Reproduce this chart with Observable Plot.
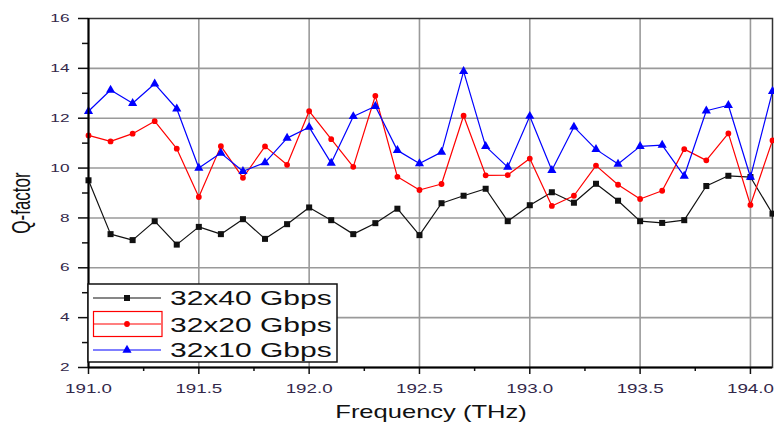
<!DOCTYPE html>
<html>
<head>
<meta charset="utf-8">
<script src="https://cdn.jsdelivr.net/npm/d3@7"></script>
<script src="https://cdn.jsdelivr.net/npm/@observablehq/plot@0.6"></script>
<style>
  html, body { margin: 0; padding: 0; background: #fff; }
</style>
</head>
<body>
<div id="chart"></div>
<script>
// Frequencies (THz), one per channel
const freq = [191.0, 191.1, 191.2, 191.3, 191.4, 191.5, 191.6, 191.7, 191.8, 191.9,
              192.0, 192.1, 192.2, 192.3, 192.4, 192.5, 192.6, 192.7, 192.8, 192.9,
              193.0, 193.1, 193.2, 193.3, 193.4, 193.5, 193.6, 193.7, 193.8, 193.9,
              194.0, 194.1];
// Q-factor values
const q40 = [9.51, 7.35, 7.11, 7.87, 6.93, 7.64, 7.35, 7.95, 7.16, 7.75,
             8.42, 7.91, 7.35, 7.79, 8.37, 7.31, 8.59, 8.89, 9.17, 7.87,
             8.51, 9.03, 8.61, 9.37, 8.69, 7.87, 7.80, 7.91, 9.28, 9.69,
             9.64, 8.17];
const q20 = [11.31, 11.07, 11.38, 11.88, 10.78, 8.84, 10.88, 9.61, 10.87, 10.13,
             12.28, 11.16, 10.05, 12.90, 9.65, 9.12, 9.36, 12.10, 9.71, 9.72,
             10.38, 8.48, 8.89, 10.10, 9.33, 8.76, 9.09, 10.76, 10.31, 11.39,
             8.52, 11.11];
const q10 = [12.28, 13.13, 12.60, 13.38, 12.38, 10.00, 10.60, 9.87, 10.22, 11.20,
             11.64, 10.20, 12.07, 12.48, 10.71, 10.18, 10.64, 13.88, 10.87, 10.04,
             12.08, 9.91, 11.65, 10.75, 10.16, 10.87, 10.92, 9.68, 12.30, 12.52,
             9.64, 13.08];
const seriesNames = ["32x40 Gbps", "32x20 Gbps", "32x10 Gbps"];
const seriesColors = ["#111111", "#ff0000", "#0000ff"];
const seriesSymbols = ["square", "circle", "triangle"];
const seriesValues = [q40, q20, q10];

const xMajor = [191.0, 191.5, 192.0, 192.5, 193.0, 193.5, 194.0];
const xMinor = [191.25, 191.75, 192.25, 192.75, 193.25, 193.75];
const yMajor = [2, 4, 6, 8, 10, 12, 14, 16];
const yMinor = [3, 5, 7, 9, 11, 13, 15];
const xGrid = [191.5, 192.0, 192.5, 193.0, 193.5, 194.0];
const yGrid = [4, 6, 8, 10, 12, 14];

const rows = [];
seriesNames.forEach((name, k) => {
  freq.forEach((f, i) => rows.push({series: name, f, q: seriesValues[k][i]}));
});

const symbolR = {"square": 3.4, "circle": 2.9, "triangle": 3.4};
const labelFill = "#33284a";

const marks = [
  Plot.gridX(xGrid, {stroke: "#9a9a9a", strokeOpacity: 1, strokeWidth: 1.6}),
  Plot.gridY(yGrid, {stroke: "#9a9a9a", strokeOpacity: 1, strokeWidth: 1.6}),
  Plot.frame({stroke: "#333", strokeWidth: 1.5})
];
seriesNames.forEach((name, k) => {
  const data = rows.filter(d => d.series === name);
  marks.push(Plot.line(data, {x: "f", y: "q", stroke: seriesColors[k], strokeWidth: 1.2}));
  marks.push(Plot.dot(data, {x: "f", y: "q", fill: seriesColors[k], stroke: "none",
    symbol: () => seriesSymbols[k], r: symbolR[seriesSymbols[k]]}));
});
marks.push(
  Plot.axisX(xMajor, {tickSize: 7, tickPadding: 10, fontSize: 12.5, fill: labelFill, stroke: "#111", strokeWidth: 1.5,
    tickFormat: d => d.toFixed(1), label: null}),
  Plot.axisX(xMinor, {tickSize: 4, stroke: "#111", strokeWidth: 1.5, tickFormat: () => "", label: null}),
  Plot.axisY(yMajor, {tickSize: 10, tickPadding: 9, fontSize: 11.5, fill: labelFill, stroke: "#111", strokeWidth: 1.5,
    tickFormat: d => String(d), label: null}),
  Plot.axisY(yMinor, {tickSize: 6, stroke: "#111", strokeWidth: 1.5, tickFormat: () => "", label: null}),
  Plot.ruleX([191.0], {stroke: "#000", strokeWidth: 2}),
  Plot.ruleY([2], {stroke: "#000", strokeWidth: 2})
);

const chart = Plot.plot({
  width: 774,
  height: 424,
  marginLeft: 88,
  marginRight: 2,
  marginTop: 18,
  marginBottom: 57,
  x: {domain: [191.0, 194.1], label: null},
  y: {domain: [2, 16], label: null},
  style: {fontFamily: "'Liberation Sans', Arial, sans-serif", background: "#fff", overflow: "visible"},
  marks
});

const svg = d3.select(chart);
// stretch tick labels horizontally around their anchor, as in the reference
svg.selectAll("text").each(function() {
  const t = d3.select(this);
  if (!t.text()) return;
  const x = +t.attr("x") || 0, y = +t.attr("y") || 0;
  const tr = t.attr("transform") || "";
  t.attr("transform", `${tr} translate(${x},${y}) scale(1.5,1) translate(${-x},${-y})`);
});

const font = "'Liberation Sans', Arial, sans-serif";
// Axis titles
svg.append("text")
  .attr("transform", "translate(431,418.3) scale(1.38,1)")
  .attr("text-anchor", "middle")
  .attr("font-family", font).attr("font-size", 18.5).attr("fill", "#111")
  .text("Frequency (THz)");
svg.append("text")
  .attr("transform", "translate(21.5,203) scale(1.5,1) rotate(-90)")
  .attr("text-anchor", "middle").attr("dominant-baseline", "central")
  .attr("font-family", font).attr("font-size", 17).attr("fill", "#111")
  .text("Q-factor");

// Legend
const lg = svg.append("g");
lg.append("rect").attr("x", 88).attr("y", 284).attr("width", 249).attr("height", 78)
  .attr("fill", "#fff").attr("stroke", "#111").attr("stroke-width", 1.5);
const rowY = [298, 324, 350];
const baseY = [305, 331.7, 357.3];
lg.append("rect").attr("x", 93.5).attr("y", 311.5).attr("width", 68.5).attr("height", 25)
  .attr("fill", "none").attr("stroke", "#ff0000").attr("stroke-width", 1.2);
seriesNames.forEach((name, k) => {
  lg.append("line").attr("x1", 93).attr("x2", 161).attr("y1", rowY[k]).attr("y2", rowY[k])
    .attr("stroke", seriesColors[k]).attr("stroke-width", 1.2);
  const sym = {square: d3.symbolSquare, circle: d3.symbolCircle, triangle: d3.symbolTriangle}[seriesSymbols[k]];
  const r = symbolR[seriesSymbols[k]];
  lg.append("path").attr("d", d3.symbol(sym, Math.PI * r * r)())
    .attr("transform", `translate(127,${rowY[k]})`).attr("fill", seriesColors[k]);
  lg.append("text").attr("transform", `translate(170,${baseY[k]}) scale(1.5,1)`)
    .attr("text-anchor", "start")
    .attr("font-family", font).attr("font-size", 20).attr("fill", "#111")
    .text(name);
});

document.getElementById("chart").appendChild(chart);
</script>
</body>
</html>
